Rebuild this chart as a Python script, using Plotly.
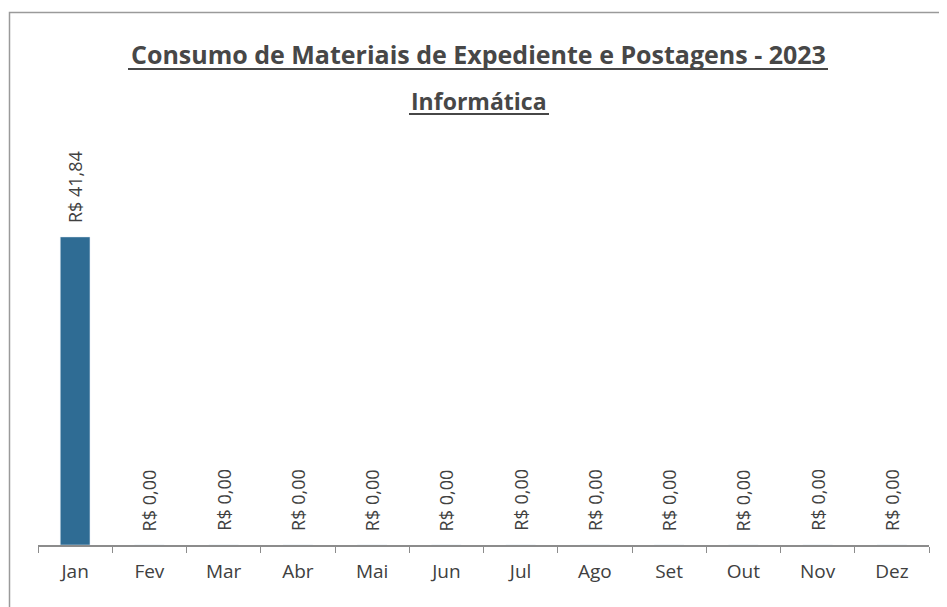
import plotly.graph_objects as go

months = ["Jan", "Fev", "Mar", "Abr", "Mai", "Jun", "Jul", "Ago", "Set", "Out", "Nov", "Dez"]
values = [41.84, 0, 0, 0, 0, 0, 0, 0, 0, 0, 0, 0]
labels = ["R$ 41,84"] + ["R$ 0,00"] * 11
title1 = "Consumo de Materiais de Expediente e Postagens - 2023"
title2 = "Informática"

OFF = 8  # page body margin
W, H = 947 - OFF, 607 - OFF
L, R, T, B = 38 - OFF, 947 - 929, 140 - OFF, 607 - 545
pw, ph = W - L - R, H - T - B

def px(x):
    return (x - OFF - L) / pw

def py(y):
    return (H - B - (y - OFF)) / ph

fig = go.Figure()
fig.add_trace(go.Bar(x=months, y=values, marker_color="#2F6C94", width=0.4, hoverinfo="skip"))

for m, v, t in zip(months, values, labels):
    fig.add_annotation(x=m, y=v, text=t, textangle=-90, showarrow=False,
                       yanchor="bottom", xanchor="center", yshift=12,
                       font=dict(family="Open Sans", size=18, color="#404040"))

col_t = "#474747"
fig.add_annotation(xref="paper", yref="paper", x=px(478), y=py(54), text="<b>" + title1 + "</b>",
                   showarrow=False, xanchor="center", yanchor="middle",
                   font=dict(family="Open Sans", size=25, color=col_t))
fig.add_annotation(xref="paper", yref="paper", x=px(479), y=py(101), text="<b>" + title2 + "</b>",
                   showarrow=False, xanchor="center", yanchor="middle",
                   font=dict(family="Open Sans", size=23, color=col_t))
# underlines
fig.add_shape(type="line", xref="paper", yref="paper", x0=px(128), x1=px(828), y0=py(69), y1=py(69),
              line=dict(color=col_t, width=2))
fig.add_shape(type="line", xref="paper", yref="paper", x0=px(409), x1=px(549), y0=py(114), y1=py(114),
              line=dict(color=col_t, width=2))
# border
fig.add_shape(type="rect", xref="paper", yref="paper", x0=px(9.5), x1=px(955), y0=py(12.5), y1=py(620),
              line=dict(color="#9a9a9a", width=1.5), fillcolor="rgba(0,0,0,0)")

fig.update_layout(
    width=W, height=H, margin=dict(l=L, r=R, t=T, b=B),
    paper_bgcolor="white", plot_bgcolor="white", showlegend=False,
    xaxis=dict(type="category", showline=True, linecolor="#8c8c8c", linewidth=1.5,
               ticks="outside", tickson="boundaries", ticklen=6, tickcolor="#8c8c8c",
               ticklabelstandoff=8,
               tickfont=dict(family="Open Sans", size=19, color="#404040"), showgrid=False),
    yaxis=dict(range=[0, 55], visible=False, showgrid=False),
)
fig.write_html("out.html")
